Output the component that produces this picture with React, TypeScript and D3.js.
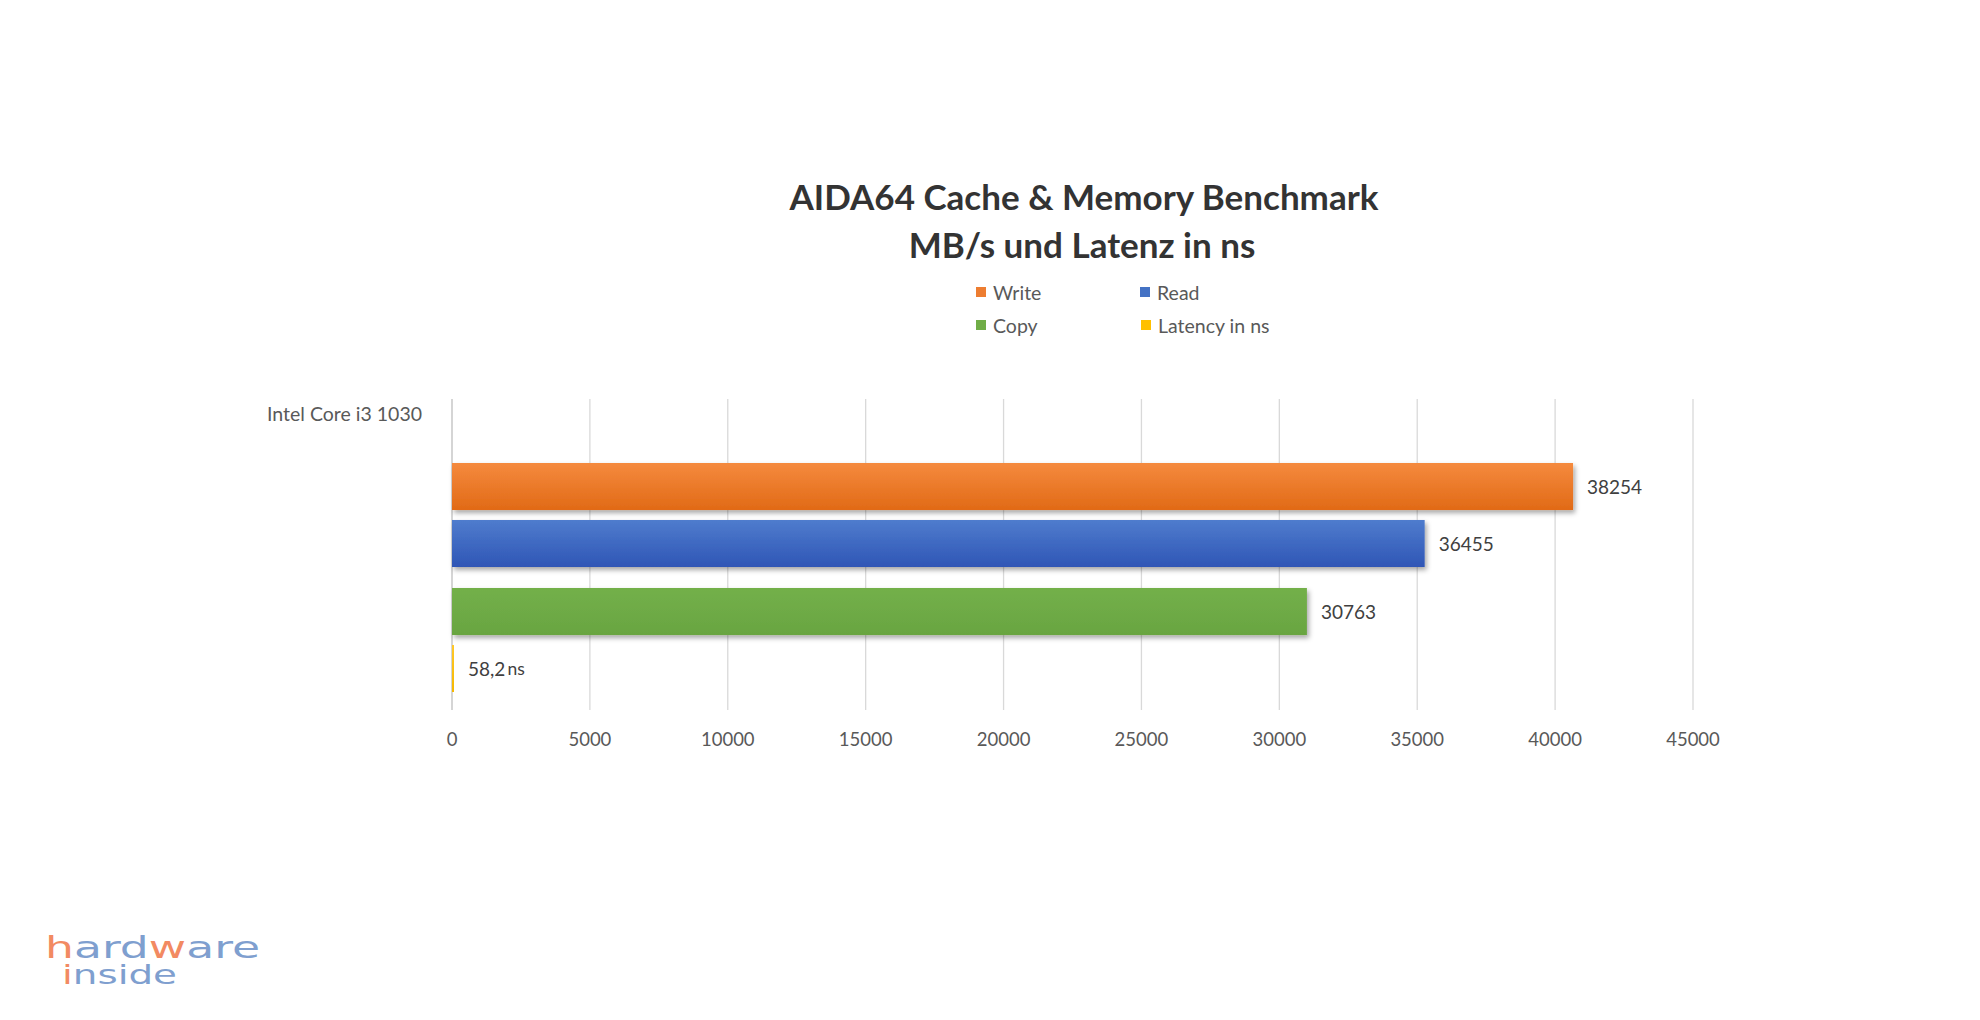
import React from "react";
import * as d3 from "d3";

const titleLines = ["AIDA64 Cache & Memory Benchmark", "MB/s und Latenz in ns"];
const categories = ["Intel Core i3 1030"];
const seriesNames = ["Write", "Read", "Copy", "Latency in ns"];
const seriesPairs = [["Write", "Read"], ["Copy", "Latency in ns"]];
const seriesColors = ["#ED7D31", "#4472C4", "#70AD47", "#FFC000"];
const seriesTop = ["#F58A3E", "#4F7CCD", "#73B04A", "#FFC82A"];
const seriesBottom = ["#E16A16", "#2F56B6", "#69A541", "#F5B800"];
// bar lengths as drawn in the picture
const barValues = [40650, 35270, 31000, 58.2];
// value labels as printed in the picture
const valueLabels = ["38254", "36455", "30763", "58,2"];
const valueUnits = ["", "", "", "ns"];
const tickValues = [0, 5000, 10000, 15000, 20000, 25000, 30000, 35000, 40000, 45000];

const W = 1980;
const H = 1020;
const FONT = "Lato, 'Open Sans', sans-serif";

export default function App() {
  const x = d3.scaleLinear().domain([0, 45000]).range([452, 1693]);
  const outer = d3.scaleBand<number>().domain([0, 1]).range([463, 692]).paddingInner(0.168).paddingOuter(0);
  const inner = d3.scaleBand<number>().domain([0, 1]).range([0, outer.bandwidth()]).paddingInner(0.175).paddingOuter(0);
  const yOf = (s: string) => {
    const p = seriesPairs.findIndex((pair) => pair.includes(s));
    const k = seriesPairs[p].indexOf(s);
    return outer(p)! + inner(k)!;
  };
  const bh = inner.bandwidth();
  const gridTop = 399;
  const gridBottom = 710;

  const legendPos = [
    { x: 976, y: 292 },
    { x: 1140, y: 292 },
    { x: 976, y: 325 },
    { x: 1141, y: 325 },
  ];

  return (
    <svg width={W} height={H} style={{ position: "absolute", left: 0, top: 0, background: "#fff" }}>
      <defs>
        {seriesNames.map((s, i) => (
          <linearGradient key={s} id={`g${i}`} x1="0" y1="0" x2="0" y2="1">
            <stop offset="0%" stopColor={seriesTop[i]} />
            <stop offset="100%" stopColor={seriesBottom[i]} />
          </linearGradient>
        ))}
        <filter id="shadow" x="-5%" y="-30%" width="110%" height="170%">
          <feDropShadow dx="2" dy="3" stdDeviation="2.5" floodColor="#000" floodOpacity="0.35" />
        </filter>
      </defs>
      <rect x={0} y={0} width={W} height={H} fill="#fff" />

      {/* title */}
      <g fontFamily={FONT} fontWeight={700} fill="#333333" textAnchor="middle">
        <text x={1084} y={210} fontSize={35}>{titleLines[0]}</text>
        <text x={1082} y={258} fontSize={35}>{titleLines[1]}</text>
      </g>

      {/* legend */}
      <g fontFamily={FONT} fontSize={19.5} fill="#595959">
        {seriesNames.map((s, i) => (
          <g key={s}>
            <rect x={legendPos[i].x} y={legendPos[i].y - 5} width={10} height={10} fill={seriesColors[i]} />
            <text x={legendPos[i].x + 17} y={legendPos[i].y} dominantBaseline="central">{s}</text>
          </g>
        ))}
      </g>

      {/* gridlines */}
      <g>
        {tickValues.map((t) => (
          <line key={t} x1={x(t)} x2={x(t)} y1={gridTop} y2={gridBottom} stroke={t === 0 ? "#BFBFBF" : "#D9D9D9"} strokeWidth={1.3} />
        ))}
      </g>

      {/* tick labels */}
      <g fontFamily={FONT} fontSize={18.5} fill="#595959" textAnchor="middle">
        {tickValues.map((t) => (
          <text key={t} x={x(t)} y={739} dominantBaseline="central">{String(t)}</text>
        ))}
      </g>

      {/* category label */}
      <text x={422} y={413} fontFamily={FONT} fontSize={19.5} fill="#595959" textAnchor="end" dominantBaseline="central">
        {categories[0]}
      </text>

      {/* bars */}
      <g>
        {seriesNames.map((s, i) => (
          <rect
            key={s}
            x={x(0)}
            y={yOf(s)}
            width={Math.max(x(barValues[i]) - x(0), 2)}
            height={bh}
            fill={`url(#g${i})`}
            filter={i < 3 ? "url(#shadow)" : undefined}
          />
        ))}
      </g>

      {/* value labels */}
      <g fontFamily={FONT} fill="#404040">
        {seriesNames.map((s, i) => (
          <text
            key={s}
            x={Math.max(x(barValues[i]), x(0) + 2) + 14}
            y={yOf(s) + bh / 2}
            dominantBaseline="central"
            fontSize={19}
          >
            {valueLabels[i]}
            {valueUnits[i] ? <tspan fontSize={17.5} dx={2}>{valueUnits[i]}</tspan> : null}
          </text>
        ))}
      </g>

      {/* logo */}
      <g fontFamily="'DejaVu Sans', sans-serif" fontWeight={400}>
        <text x={45} y={958} fontSize={30} textLength={215} lengthAdjust="spacingAndGlyphs">
          <tspan fill="#F28A62">h</tspan>
          <tspan fill="#7F9FCF">ard</tspan>
          <tspan fill="#F28A62">w</tspan>
          <tspan fill="#7F9FCF">are</tspan>
        </text>
        <text x={62} y={984} fontSize={27} textLength={115} lengthAdjust="spacingAndGlyphs">
          <tspan fill="#F28A62">i</tspan>
          <tspan fill="#7F9FCF">nside</tspan>
        </text>
      </g>
    </svg>
  );
}
